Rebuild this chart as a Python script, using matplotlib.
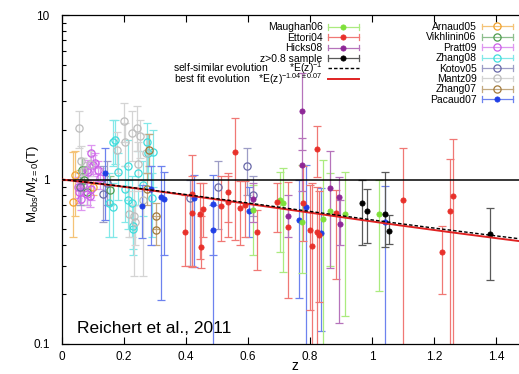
import numpy as np
import matplotlib
matplotlib.use("Agg")
import matplotlib.pyplot as plt
import matplotlib.ticker as mticker
from matplotlib.lines import Line2D
from matplotlib.legend_handler import HandlerBase

plt.rcParams["font.family"] = ["Liberation Sans", "DejaVu Sans"]
plt.rcParams["mathtext.fontset"] = "custom"
plt.rcParams["mathtext.rm"] = "Liberation Sans"
plt.rcParams["mathtext.it"] = "Liberation Sans:italic"

# each sample: redshift, M_obs/M_z=0, lower bound, upper bound
arnaud_z  = [0.037, 0.042, 0.058, 0.100]
arnaud_m  = [0.727, 1.06, 0.90, 0.90]
arnaud_lo = [0.45, 0.60, 0.70, 0.80]
arnaud_hi = [1.47, 1.50, 1.15, 1.00]

vikh_z  = [0.063, 0.072, 0.080, 0.155]
vikh_m  = [1.14, 1.00, 0.84, 0.86]
vikh_lo = [0.95, 0.85, 0.70, 0.70]
vikh_hi = [1.35, 1.20, 1.00, 1.05]

pratt_z  = [0.092, 0.117, 0.085, 0.101, 0.107, 0.080, 0.053, 0.069, 0.056, 0.080, 0.095, 0.123, 0.062, 0.090]
pratt_m  = [1.44, 1.14, 1.11, 1.22, 1.26, 1.14, 0.90, 0.93, 0.84, 0.82, 0.87, 1.02, 0.76, 0.79]
pratt_lo = [1.25, 0.98, 0.95, 1.05, 1.08, 0.97, 0.77, 0.80, 0.72, 0.70, 0.75, 0.88, 0.65, 0.68]
pratt_hi = [1.62, 1.30, 1.27, 1.40, 1.44, 1.31, 1.04, 1.07, 0.97, 0.95, 1.00, 1.17, 0.88, 0.91]

zhang08_z  = [0.165, 0.170, 0.150, 0.166, 0.182, 0.214, 0.225, 0.273, 0.229, 0.214,
              0.246, 0.279, 0.295, 0.230, 0.289, 0.203, 0.262]
zhang08_m  = [1.70, 1.74, 0.72, 0.68, 1.11, 1.20, 0.72, 1.70, 0.52, 0.75,
              1.09, 1.44, 1.47, 0.50, 0.77, 0.87, 0.92]
zhang08_lo = [1.20, 1.25, 0.45, 0.45, 0.75, 0.75, 0.45, 1.10, 0.38, 0.50,
              0.70, 1.00, 0.90, 0.35, 0.45, 0.55, 0.60]
zhang08_hi = [2.30, 2.30, 1.10, 0.95, 1.45, 1.75, 1.05, 2.20, 0.70, 1.00,
              1.50, 1.90, 2.00, 0.70, 1.10, 1.20, 1.30]

kotov_z  = [0.058, 0.133, 0.144, 0.413, 0.504, 0.596, 0.617]
kotov_m  = [0.90, 0.82, 0.95, 0.77, 0.905, 1.20, 0.805]
kotov_lo = [0.70, 0.55, 0.70, 0.30, 0.50, 0.80, 0.60]
kotov_hi = [1.10, 1.20, 1.30, 1.00, 1.30, 1.55, 1.05]

mantz_z  = [0.055, 0.200, 0.225, 0.243, 0.252, 0.203, 0.178, 0.246, 0.060, 0.068,
            0.090, 0.235, 0.215, 0.270, 0.262, 0.233]
mantz_m  = [2.06, 2.28, 1.91, 2.05, 1.84, 1.70, 1.51, 1.25, 1.30, 1.12,
            1.25, 0.55, 0.62, 1.45, 0.75, 0.60]
mantz_lo = [1.55, 1.70, 1.30, 1.50, 1.35, 1.20, 1.10, 0.85, 1.05, 0.90,
            1.05, 0.40, 0.45, 1.10, 0.26, 0.26]
mantz_hi = [2.60, 2.90, 2.60, 2.80, 2.30, 2.20, 1.95, 1.70, 1.60, 1.35,
            1.50, 0.70, 0.85, 1.90, 1.00, 0.90]

zhang07_z  = [0.273, 0.281, 0.302, 0.302]
zhang07_m  = [0.88, 1.51, 0.60, 0.49]
zhang07_lo = [0.70, 1.20, 0.50, 0.40]
zhang07_hi = [1.10, 1.90, 0.72, 0.60]

pacaud_z  = [0.139, 0.257, 0.287, 0.319, 0.329, 0.427, 0.488, 0.488, 0.603, 0.765, 0.786, 0.835, 1.042]
pacaud_m  = [1.09, 0.69, 0.88, 0.786, 0.76, 0.77, 0.71, 0.49, 0.646, 0.567, 0.68, 0.47, 0.55]
pacaud_lo = [0.57, 0.44, 0.40, 0.185, 0.35, 0.295, 0.08, 0.35, 0.45, 0.19, 0.08, 0.12, 0.08]
pacaud_hi = [1.55, 0.93, 1.20, 1.20, 1.11, 1.07, 1.06, 0.70, 0.90, 0.99, 1.22, 0.89, 0.91]

maughan_z  = [0.617, 0.703, 0.714, 0.775, 0.843, 0.865, 0.913, 1.023]
maughan_m  = [0.65, 0.75, 0.72, 0.55, 0.575, 0.64, 0.62, 0.617]
maughan_lo = [0.35, 0.36, 0.275, 0.27, 0.08, 0.30, 0.148, 0.21]
maughan_hi = [0.92, 1.11, 1.18, 1.22, 1.31, 1.10, 1.11, 0.99]

ettori_z  = [0.397, 0.420, 0.420, 0.445, 0.456, 0.448, 0.512, 0.536, 0.536, 0.558,
             0.574, 0.590, 0.630, 0.695, 0.730, 0.776, 0.800, 0.805, 0.824, 0.824,
             0.830, 0.884, 1.099, 1.227, 1.252, 1.262]
ettori_m  = [0.48, 0.82, 0.623, 0.617, 0.66, 0.39, 0.69, 0.843, 0.733, 1.475,
             0.668, 0.70, 0.48, 0.727, 0.517, 0.72, 0.49, 0.396, 1.53, 0.48,
             0.46, 0.628, 0.75, 0.36, 0.646, 0.79]
ettori_lo = [0.30, 0.295, 0.30, 0.33, 0.45, 0.29, 0.42, 0.55, 0.45, 0.43,
             0.40, 0.45, 0.28, 0.482, 0.19, 0.42, 0.16, 0.08, 1.04, 0.08,
             0.18, 0.25, 0.08, 0.20, 0.08, 0.08]
ettori_hi = [0.80, 1.41, 1.05, 0.95, 0.95, 0.60, 1.05, 1.10, 1.05, 2.36,
             0.98, 0.98, 0.65, 0.948, 0.97, 1.20, 0.93, 0.95, 2.10, 0.90,
             0.85, 0.86, 1.55, 0.52, 1.33, 1.76]

hicks_z  = [0.617, 0.730, 0.773, 0.775, 0.865, 0.894, 0.897]
hicks_m  = [0.76, 0.60, 1.22, 2.61, 0.89, 0.78, 0.54]
hicks_lo = [0.55, 0.45, 0.85, 1.51, 0.29, 0.135, 0.40]
hicks_hi = [0.95, 0.80, 1.80, 4.44, 1.50, 1.04, 0.75]

highz_z  = [0.969, 0.983, 1.042, 1.056, 1.381]
highz_m  = [0.72, 0.64, 0.617, 0.486, 0.466]
highz_lo = [0.40, 0.41, 0.39, 0.405, 0.245]
highz_hi = [1.00, 0.875, 1.11, 0.61, 0.67]

# fitted evolution exponents
SELF_SIMILAR = -1.0
BEST_FIT = -1.04
OMEGA_M, OMEGA_L = 0.3, 0.7


def lighten(c, f):
    rgb = np.array(matplotlib.colors.to_rgb(c))
    return tuple(rgb + (1 - rgb) * f)


# name, data, colour, filled marker
samples_right = [
    ("Arnaud05",    (arnaud_z, arnaud_m, arnaud_lo, arnaud_hi),     "#f0a22e", False),
    ("Vikhlinin06", (vikh_z, vikh_m, vikh_lo, vikh_hi),             "#4f9d4f", False),
    ("Pratt09",     (pratt_z, pratt_m, pratt_lo, pratt_hi),         "#cc5fe8", False),
    ("Zhang08",     (zhang08_z, zhang08_m, zhang08_lo, zhang08_hi), "#3fdcdc", False),
    ("Kotov05",     (kotov_z, kotov_m, kotov_lo, kotov_hi),         "#6868a8", False),
    ("Mantz09",     (mantz_z, mantz_m, mantz_lo, mantz_hi),         "#bdbdbd", False),
    ("Zhang07",     (zhang07_z, zhang07_m, zhang07_lo, zhang07_hi), "#a27a3c", False),
    ("Pacaud07",    (pacaud_z, pacaud_m, pacaud_lo, pacaud_hi),     "#1f3fe6", True),
]
samples_left = [
    ("Maughan06",      (maughan_z, maughan_m, maughan_lo, maughan_hi), "#7ee03a", True),
    ("Ettori04",       (ettori_z, ettori_m, ettori_lo, ettori_hi),     "#e8302a", True),
    ("Hicks08",        (hicks_z, hicks_m, hicks_lo, hicks_hi),         "#8e2797", True),
    ("z>0.8 sample",   (highz_z, highz_m, highz_lo, highz_hi),         "#000000", True),
]


class ErrHandler(HandlerBase):
    """gnuplot-like key sample: horizontal bar with end ticks and a point"""

    def create_artists(self, legend, orig, xd, yd, w, h, fs, trans):
        y = h / 2 - yd
        x0, x1 = -xd, w - xd
        c = orig.get_color()
        bar = Line2D([x0, x1], [y, y], color=c, lw=0.9)
        caps = Line2D([x0, x0, np.nan, x1, x1], [y - 2, y + 2, np.nan, y - 2, y + 2],
                      color=c, lw=0.9)
        dot = Line2D([(x0 + x1) / 2], [y], ls="none", marker="o",
                     ms=orig.get_markersize(), mfc=orig.get_markerfacecolor(),
                     mec=orig.get_markeredgecolor(), mew=orig.get_markeredgewidth())
        for a in (bar, caps, dot):
            a.set_transform(trans)
        return [bar, caps, dot]


W, H = 519, 374
fig = plt.figure(figsize=(W / 100, H / 100), dpi=100, facecolor="white")
ax = fig.add_axes([62 / W, 30 / H, 465 / W, 329 / H])
ax.set_yscale("log")
ax.set_xlim(0, 1.5)
ax.set_ylim(0.1, 10)


def draw(name, data, color, filled):
    z, m, lo, hi = (np.asarray(a) for a in data)
    ecol = lighten(color, 0.35)
    ax.errorbar(z, m, yerr=[m - lo, hi - m], fmt="none", ecolor=ecol,
                elinewidth=0.9, capsize=3.0, capthick=0.9, zorder=2)
    if filled:
        ax.plot(z, m, "o", ls="none", ms=3.8, mfc=color, mec=color, mew=0.5, zorder=3)
        proxy = Line2D([], [], color=ecol, marker="o", ms=3.8, mfc=color, mec=color, mew=0.5)
    else:
        ax.plot(z, m, "o", ls="none", ms=5.2, mfc="none", mec=color, mew=0.9, zorder=3)
        proxy = Line2D([], [], color=ecol, marker="o", ms=5.2, mfc="none", mec=color, mew=0.9)
    return proxy


right_handles = [draw(*s) for s in samples_right]
left_handles = [draw(*s) for s in samples_left]

# reference lines
ax.axhline(1.0, color="black", lw=1.1, zorder=4)
zz = np.linspace(0, 1.5, 300)
Ez = np.sqrt(OMEGA_M * (1 + zz) ** 3 + OMEGA_L)
ss_line, = ax.plot(zz, Ez ** SELF_SIMILAR, color="black", lw=1.0, ls=(0, (2.5, 1.5)), zorder=5)
bf_line, = ax.plot(zz, Ez ** BEST_FIT, color="#e02222", lw=1.4, zorder=4)

# axes styling
ax.spines["right"].set_visible(False)
for sp in ax.spines.values():
    sp.set_linewidth(0.9)
ax.xaxis.set_major_locator(mticker.MultipleLocator(0.2))
ax.xaxis.set_major_formatter(mticker.FuncFormatter(lambda v, _: f"{v:g}"))
ax.yaxis.set_major_locator(mticker.FixedLocator([0.1, 1, 10]))
ax.yaxis.set_major_formatter(mticker.FuncFormatter(lambda v, _: f"{v:g}"))
ax.yaxis.set_minor_locator(mticker.LogLocator(subs=np.arange(2, 10)))
ax.yaxis.set_minor_formatter(mticker.NullFormatter())
ax.tick_params(which="both", direction="in", top=True, right=False, labelsize=8.5, width=0.8)
ax.tick_params(which="major", length=5)
ax.tick_params(which="minor", length=3)
ax.tick_params(axis="x", pad=5)
ax.tick_params(axis="y", pad=9)

ax.set_ylabel(r"M$_{\mathregular{obs}}$/M$_{\mathregular{z=0}}$(T)", fontsize=9.5)
ax.yaxis.set_label_coords(-0.045, 0.486)
ax.set_xlabel("z", fontsize=10, va="bottom")
ax.xaxis.set_label_coords(0.5, -0.0875)

ax.text(15 / 465, 11 / 329, "Reichert et al., 2011", transform=ax.transAxes,
        fontsize=12.5, ha="left", va="baseline", zorder=6)

# keys
hmap = {h: ErrHandler() for h in left_handles + right_handles}
key_kw = dict(frameon=False, fontsize=7.5, handlelength=3.0,
              handletextpad=0.5, labelspacing=0.04, borderpad=0, borderaxespad=0,
              markerfirst=False, handler_map=hmap, bbox_transform=fig.transFigure)
keys = [
    ax.legend(left_handles, [s[0] for s in samples_left], loc="upper right",
              bbox_to_anchor=(359 / W, 1 - 22.5 / H), **key_kw),
    ax.legend([ss_line], [r"self-similar evolution$\hspace{2.6}$*E(z)$^{-1}$"], loc="center right",
              bbox_to_anchor=(359 / W, 1 - 68 / H), **key_kw),
    ax.legend([bf_line], [r"best fit evolution$\hspace{1.1}$*E(z)$^{-1.04\pm0.07}$"], loc="center right",
              bbox_to_anchor=(359 / W, 1 - 79 / H), **key_kw),
    ax.legend(right_handles, [s[0] for s in samples_right], loc="upper right",
              bbox_to_anchor=(513 / W, 1 - 22 / H), **key_kw),
]
for leg in keys:
    leg.set_zorder(7)
    for col in leg._legend_handle_box.get_children():
        col.align = "right"
# the last call is already the axes' own legend; keep the others too
for leg in keys[:-1]:
    ax.add_artist(leg)

fig.savefig("out.png", dpi=100, facecolor="white")
